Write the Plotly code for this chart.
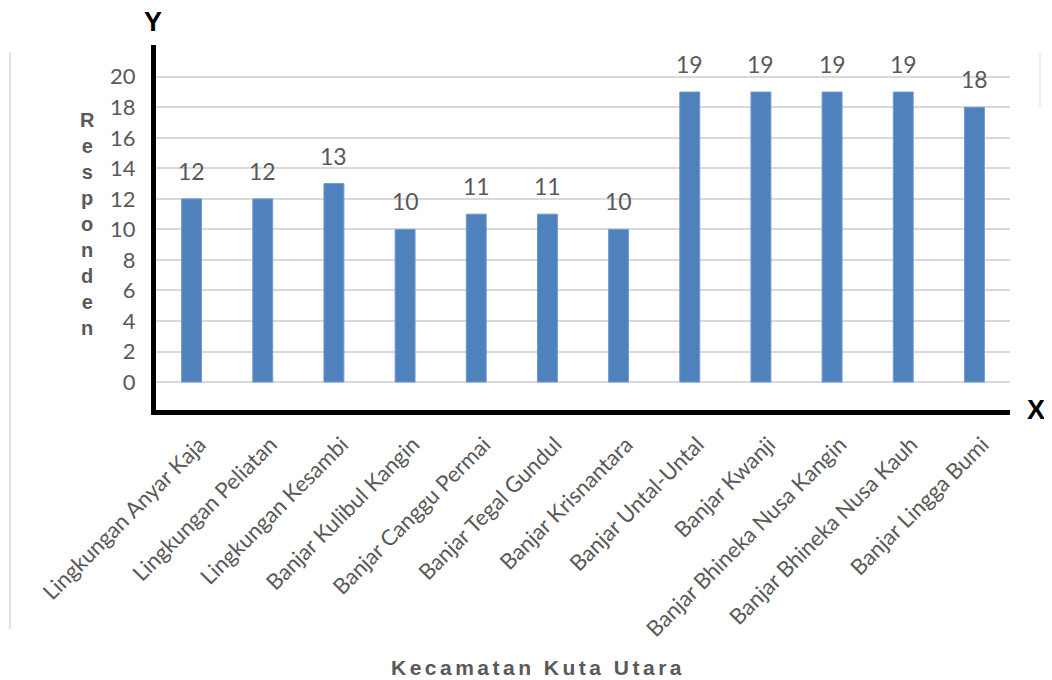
import plotly.graph_objects as go

# data
kategori = ['Lingkungan Anyar Kaja', 'Lingkungan Peliatan', 'Lingkungan Kesambi',
			'Banjar Kulibul Kangin', 'Banjar Canggu Permai', 'Banjar Tegal Gundul',
			'Banjar Krisnantara', 'Banjar Untal-Untal', 'Banjar Kwanji',
			'Banjar Bhineka Nusa Kangin', 'Banjar Bhineka Nusa Kauh', 'Banjar Lingga Bumi']
responden = [12, 12, 13, 10, 11, 11, 10, 19, 19, 19, 19, 18]
y_ticks = [0, 2, 4, 6, 8, 10, 12, 14, 16, 18, 20]

bar_color = '#4F81BD'
text_gray = '#595959'
grid_gray = '#D9D9D9'
label_font = 'Lato'
bold_font = 'Liberation Sans'

fig = go.Figure()

fig.add_trace(
	go.Bar(
		x=kategori,
		y=responden,
		marker=dict(color=bar_color, line=dict(color='#6F9AD0', width=1)),
		hoverinfo='x+y',
	)
)

# value labels sit a bit higher than plotly's 'outside' text, so annotations
for k, v in zip(kategori, responden):
	fig.add_annotation(
		x=k, y=v,
		text=str(v),
		showarrow=False,
		yanchor='bottom',
		yshift=12,
		font=dict(family=label_font, size=23, color=text_gray),
	)

# vertical "Responden" label, one letter per line
fig.add_annotation(
	text='<br>'.join(list('Responden')),
	xref='paper', yref='paper',
	x=-0.08, y=0.51,
	xanchor='center', yanchor='middle',
	showarrow=False,
	align='center',
	font=dict(family=bold_font, size=20, color=text_gray, weight='bold'),
)

# x title with letter spacing (six-per-em spaces)
spaced = '\u2006'.join(list('Kecamatan Kuta Utara'))
fig.add_annotation(
	text=spaced,
	xref='paper', yref='paper',
	x=0.446, y=-0.706,
	xanchor='center', yanchor='middle',
	showarrow=False,
	font=dict(family=bold_font, size=21, color=text_gray, weight='bold'),
)

# axis letters
fig.add_annotation(
	text='Y', xref='paper', yref='paper',
	x=-0.004, y=1.063, xanchor='center', yanchor='middle', showarrow=False,
	font=dict(family=bold_font, size=27, color='black', weight='bold'),
)
fig.add_annotation(
	text='X', xref='paper', yref='paper',
	x=1.03, y=0.0, xanchor='center', yanchor='middle', showarrow=False,
	font=dict(family=bold_font, size=27, color='black', weight='bold'),
)

# faint chart border pieces
fig.add_shape(type='line', xref='paper', yref='paper',
	x0=-0.171, x1=-0.171, y0=0.981, y1=-0.6,
	line=dict(color='#E4E4E4', width=2))
fig.add_shape(type='line', xref='paper', yref='paper',
	x0=1.035, x1=1.035, y0=0.978, y1=0.83,
	line=dict(color='#EFEFEF', width=2))

# page body adds ~8px offset, so the figure is a bit smaller than the window
fig.update_layout(
	width=1044,
	height=672,
	margin=dict(l=148, r=42, t=37, b=270, pad=0),
	plot_bgcolor='white',
	paper_bgcolor='white',
	showlegend=False,
	bargap=0.72,
	xaxis=dict(
		showline=True,
		linecolor='black',
		linewidth=5,
		showgrid=False,
		tickangle=-45,
		tickfont=dict(family=label_font, size=22, color=text_gray),
		ticklabelstandoff=8,
		ticklabelshift=8,
		automargin=False,
		ticks='',
	),
	yaxis=dict(
		range=[-1.83, 22.08],
		tickvals=y_ticks,
		showline=True,
		linecolor='black',
		linewidth=5,
		showgrid=True,
		gridcolor=grid_gray,
		gridwidth=2,
		zeroline=False,
		tickfont=dict(family=label_font, size=22, color=text_gray),
		ticklabelstandoff=11,
		automargin=False,
		ticks='',
	),
)

fig.write_html('out.html')
